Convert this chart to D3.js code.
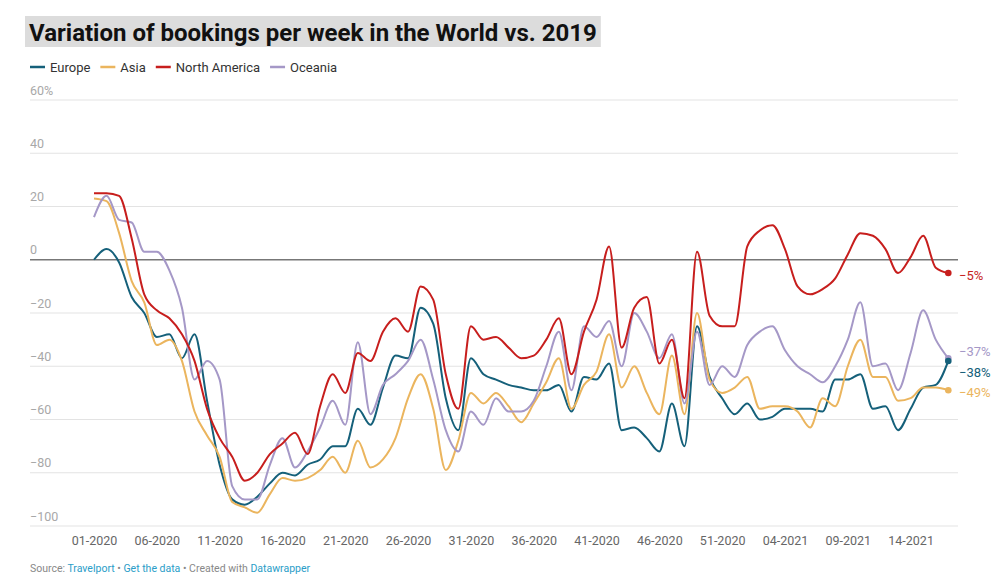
<!DOCTYPE html>
<html><head><meta charset="utf-8">
<script src="https://cdn.jsdelivr.net/npm/d3@7"></script>
<style>body{margin:0;background:#fff;font-family:Roboto,sans-serif;} svg{display:block}</style>
</head><body><svg id="c" width="1000" height="577"></svg>
<script>
const weeks = ["01-2020","02-2020","03-2020","04-2020","05-2020","06-2020","07-2020","08-2020","09-2020","10-2020",
"11-2020","12-2020","13-2020","14-2020","15-2020","16-2020","17-2020","18-2020","19-2020","20-2020",
"21-2020","22-2020","23-2020","24-2020","25-2020","26-2020","27-2020","28-2020","29-2020","30-2020",
"31-2020","32-2020","33-2020","34-2020","35-2020","36-2020","37-2020","38-2020","39-2020","40-2020",
"41-2020","42-2020","43-2020","44-2020","45-2020","46-2020","47-2020","48-2020","49-2020","50-2020",
"51-2020","52-2020","01-2021","02-2021","03-2021","04-2021","05-2021","06-2021","07-2021","08-2021",
"09-2021","10-2021","11-2021","12-2021","13-2021","14-2021","15-2021","16-2021","17-2021"];
const xTickLabels = ["01-2020","06-2020","11-2020","16-2020","21-2020","26-2020","31-2020","36-2020","41-2020","46-2020","51-2020","04-2021","09-2021","14-2021"];
const yTicks = [60,40,20,0,-20,-40,-60,-80,-100];
const seriesNames = ["Europe","Asia","North America","Oceania"];
const seriesColors = ["#15607a","#ebb55e","#c71e1d","#a598c7"];

const europe = [0,4,-1,-14,-20,-29,-28,-37,-28,-53,-77,-90,-92,-89,-84,-80,-81,-77,-75,-70,
-70,-56,-62,-48,-36,-37,-18,-24,-52,-64,-37,-43,-45,-47,-48,-49,-49,-47,-57,-44,
-45,-39,-64,-63,-67,-72,-54,-70,-25,-44,-52,-58,-54,-60,-59,-56,-56,-56,-57,-45,
-45,-43,-56,-55,-64,-56,-48,-47,-38];
const asia = [23,22,10,-8,-16,-32,-30,-38,-57,-66,-74,-91,-93,-95,-88,-82,-83,-82,-79,-74,
-80,-68,-78,-75,-67,-52,-43,-56,-79,-68,-50,-54,-50,-55,-61,-54,-46,-37,-56,-47,
-42,-28,-48,-40,-50,-58,-36,-58,-20,-45,-50,-48,-44,-56,-55,-55,-57,-63,-52,-55,
-40,-30,-44,-44,-53,-52,-48,-48,-49];
const northAmerica = [25,25,24,8,-13,-19,-22,-28,-38,-56,-67,-74,-83,-80,-73,-69,-65,-73,-55,-43,
-50,-35,-38,-27,-22,-27,-10,-15,-43,-56,-25,-30,-29,-33,-37,-36,-30,-22,-43,-27,
-15,5,-33,-18,-14,-39,-30,-52,3,-21,-25,-25,5,11,13,4,-10,-13,-11,-7,
2,10,9,4,-5,1,9,-3,-5];
const oceania = [16,24,15,14,3,3,-4,-18,-45,-38,-45,-85,-90,-90,-77,-67,-78,-72,-63,-53,
-62,-31,-58,-47,-43,-38,-30,-45,-64,-72,-57,-62,-52,-57,-57,-53,-40,-27,-49,-25,
-29,-23,-40,-20,-27,-37,-28,-54,-27,-47,-40,-44,-32,-27,-25,-34,-40,-43,-46,-40,
-30,-16,-40,-39,-49,-35,-19,-30,-37];

const allSeries = [europe, asia, northAmerica, oceania];

const svg = d3.select("#c");
const font = "Roboto, sans-serif";

// Title
const title = svg.append("text").attr("x", 29).attr("y", 40.5)
  .attr("font-family", font).attr("font-weight", 700).attr("font-size", 24)
  .attr("fill", "#111").text("Variation of bookings per week in the World vs. 2019");
const tw = title.node().getComputedTextLength();
svg.insert("rect", "text").attr("x", 25).attr("y", 16).attr("width", tw + 8).attr("height", 31).attr("fill", "#dcdcdc");

// Legend
let lx = 30;
const legend = svg.append("g");
seriesNames.forEach((n, i) => {
  legend.append("line").attr("x1", lx).attr("x2", lx + 15).attr("y1", 67).attr("y2", 67)
    .attr("stroke", seriesColors[i]).attr("stroke-width", 2.5);
  const t = legend.append("text").attr("x", lx + 20).attr("y", 71.5)
    .attr("font-family", font).attr("font-size", 13).attr("fill", "#333").text(n);
  lx += 20 + t.node().getComputedTextLength() + 10;
});

// Scales
const x = d3.scalePoint().domain(weeks).range([94, 948.3]);
const y = d3.scaleLinear().domain([-100, 60]).range([526, 100]);

// Grid
const grid = svg.append("g");
yTicks.forEach(t => {
  if (t === 0) return;
  grid.append("line").attr("x1", 30).attr("x2", 958).attr("y1", y(t)).attr("y2", y(t))
    .attr("stroke", "#e3e3e3").attr("stroke-width", 1);
});
yTicks.forEach(t => {
  grid.append("text").attr("x", 30).attr("y", y(t) - 5.5)
    .attr("font-family", font).attr("font-size", 12.5).attr("fill", "#a8a8a8")
    .text((t < 0 ? "\u2212" + Math.abs(t) : t) + (t === 60 ? "%" : ""));
});

// zero line
svg.append("line").attr("x1", 30).attr("x2", 958).attr("y1", y(0)).attr("y2", y(0))
  .attr("stroke", "#777").attr("stroke-width", 1.3);

// X axis labels
const xAxis = d3.axisBottom(x).tickValues(xTickLabels).tickSize(0).tickPadding(0);
const xg = svg.append("g").attr("transform", "translate(0,545)").call(xAxis);
xg.select(".domain").remove();
xg.selectAll("text").attr("font-family", font).attr("font-size", 12.5).attr("fill", "#666").attr("dy", 0);

// Lines
const line = d3.line().x((d, i) => x(weeks[i])).y(d => y(d)).curve(d3.curveMonotoneX);
const lineOrder = [0, 1, 3, 2];
lineOrder.forEach(i => {
  svg.append("path").attr("d", line(allSeries[i])).attr("fill", "none")
    .attr("stroke", seriesColors[i]).attr("stroke-width", 2).attr("stroke-linejoin", "round");
});

// End dots & labels
const last = weeks[weeks.length - 1];
const labels = allSeries.map((s, i) => ({ i, v: s[s.length - 1], y: y(s[s.length - 1]) }));
labels.forEach(l => l.ly = l.y);
for (let k = 0; k < 200; k++) {
  labels.sort((a, b) => a.ly - b.ly);
  for (let j = 0; j < labels.length - 1; j++) {
    const a = labels[j], b = labels[j + 1];
    const gap = b.ly - a.ly;
    if (gap < 20.5) { const d = (20.5 - gap) / 2; a.ly -= d; b.ly += d; }
  }
}
labels.forEach(l => {
  svg.append("circle").attr("cx", x(last)).attr("cy", l.y).attr("r", 3.3).attr("fill", seriesColors[l.i]);
  svg.append("text").attr("x", 959).attr("y", l.ly + 6.8).attr("font-family", font).attr("font-size", 13)
    .attr("fill", seriesColors[l.i]).text("\u2212" + Math.abs(l.v) + "%");
});

// Source line
svg.append("text").attr("x", 30).attr("y", 572).attr("font-family", font).attr("font-size", 10.5)
  .attr("fill", "#888").html('Source: <tspan fill="#2a9dc8">Travelport</tspan> \u2022 <tspan fill="#2a9dc8">Get the data</tspan> \u2022 Created with <tspan fill="#2a9dc8">Datawrapper</tspan>');
</script></body></html>
